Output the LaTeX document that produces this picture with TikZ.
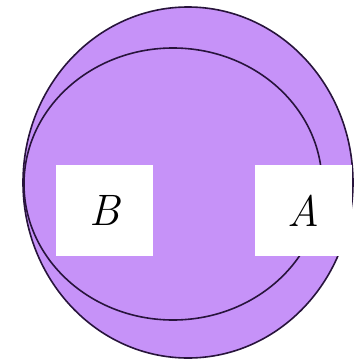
\documentclass[tikz,border=0pt]{standalone}
\usepackage{fontspec}
\usepackage{tikz}

\definecolor{setfill}{RGB}{198,146,248}
\definecolor{setline}{RGB}{40,20,60}

\begin{document}
\begin{tikzpicture}[x=1pt, y=-1pt,
    setedge/.style={draw=setline, line width=1.6pt},
    labelbox/.style={fill=white, minimum width=97pt, minimum height=91pt, inner sep=0pt,
                     font=\fontsize{44}{48}\selectfont\itshape}]
        \useasboundingbox (0,0) rectangle (357,362);

        % Set A
        \draw[setedge, fill=setfill] (188,182.5) ellipse [x radius=165, y radius=175.5];

        % Set B
        \draw[setedge] (173,184) ellipse [x radius=149, y radius=136];

        % Labels
        \node[labelbox] (boxB) at (104.5,210.5) {B};
        \node[labelbox] (boxA) at (303,210.5) {A};
    \end{tikzpicture}
\end{document}
